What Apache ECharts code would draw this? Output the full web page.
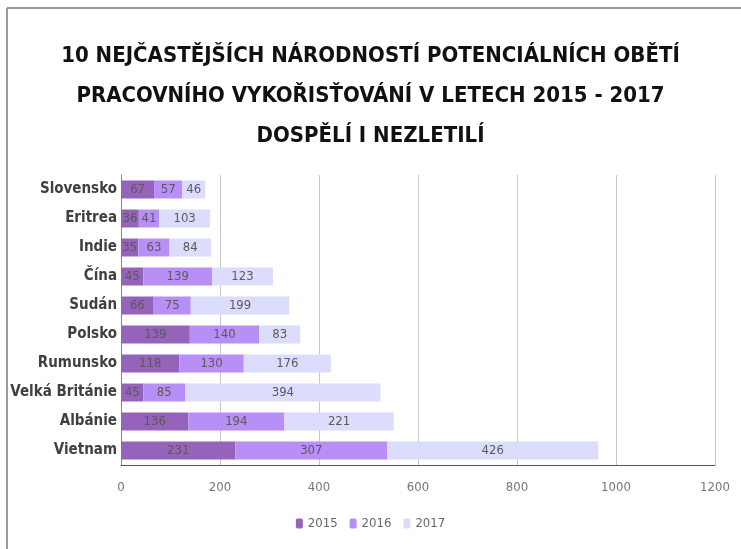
<!DOCTYPE html>
<html><head><meta charset="utf-8">
<script src="https://cdn.jsdelivr.net/npm/echarts@6/dist/echarts.min.js"></script>
<style>html,body{margin:0;padding:0;background:#fff}#c{width:741px;height:549px}</style>
</head><body><div id="c"></div>
<script>
const categories = ['Slovensko','Eritrea','Indie','Čína','Sudán','Polsko','Rumunsko','Velká Británie','Albánie','Vietnam'];
const v2015 = [67,36,35,45,66,139,118,45,136,231];
const v2016 = [57,41,63,139,75,140,130,85,194,307];
const v2017 = [46,103,84,123,199,83,176,394,221,426];
const seriesNames = ['2015','2016','2017'];
const xTicks = {min:0, max:1200, interval:200};
const titleLines = ['10 NEJČASTĚJŠÍCH NÁRODNOSTÍ POTENCIÁLNÍCH OBĚTÍ','PRACOVNÍHO VYKOŘISŤOVÁNÍ V LETECH 2015 - 2017','DOSPĚLÍ I NEZLETILÍ'];

const FONT = '"Liberation Sans Narrow","DejaVu Sans Condensed","Roboto Condensed",sans-serif';
const colors = ['#9563b9','#b88ef7','#dcdcfc'];
const chart = echarts.init(document.getElementById('c'));
const mk = (name, data, i) => ({
  name, type:'bar', stack:'total', data, barWidth:'62%',
  itemStyle:{color:colors[i]},
  label:{show:true, position:'inside', color:'#5a5a5a', fontSize:13, fontFamily:FONT}
});
chart.setOption({
  animation:false,
  textStyle:{fontFamily:FONT},
  title:{text:titleLines.join('\n'), left:'center', top:31,
    textStyle:{fontFamily:FONT, fontSize:22, fontWeight:'bold', color:'#111', lineHeight:40}},
  grid:{left:121, right:26, top:175, bottom:84, containLabel:false, outerBoundsMode:'none'},
  legend:{bottom:14, left:'center', itemWidth:7, itemHeight:10, itemGap:12,
    textStyle:{color:'#666', fontSize:13, fontFamily:FONT}, data:seriesNames},
  xAxis:{type:'value', min:xTicks.min, max:xTicks.max, interval:xTicks.interval,
    axisLine:{show:true, lineStyle:{color:'#555', width:1}},
    axisTick:{show:false},
    axisLabel:{color:'#777', fontSize:13, margin:16, fontFamily:FONT, formatter:v=>String(v)},
    splitLine:{lineStyle:{color:'#c8c8c8'}}},
  yAxis:{type:'category', data:categories, inverse:true,
    axisLine:{show:true, lineStyle:{color:'#888'}},
    axisTick:{show:false},
    axisLabel:{color:'#404040', fontSize:15, fontWeight:'bold', margin:4, fontFamily:FONT}},
  graphic:[
    {type:'line', shape:{x1:7,y1:8,x2:741,y2:8}, style:{stroke:'#999', lineWidth:2}},
    {type:'line', shape:{x1:7,y1:8,x2:7,y2:549}, style:{stroke:'#999', lineWidth:2}}
  ],
  series:[mk(seriesNames[0],v2015,0), mk(seriesNames[1],v2016,1), mk(seriesNames[2],v2017,2)]
});
</script></body></html>
